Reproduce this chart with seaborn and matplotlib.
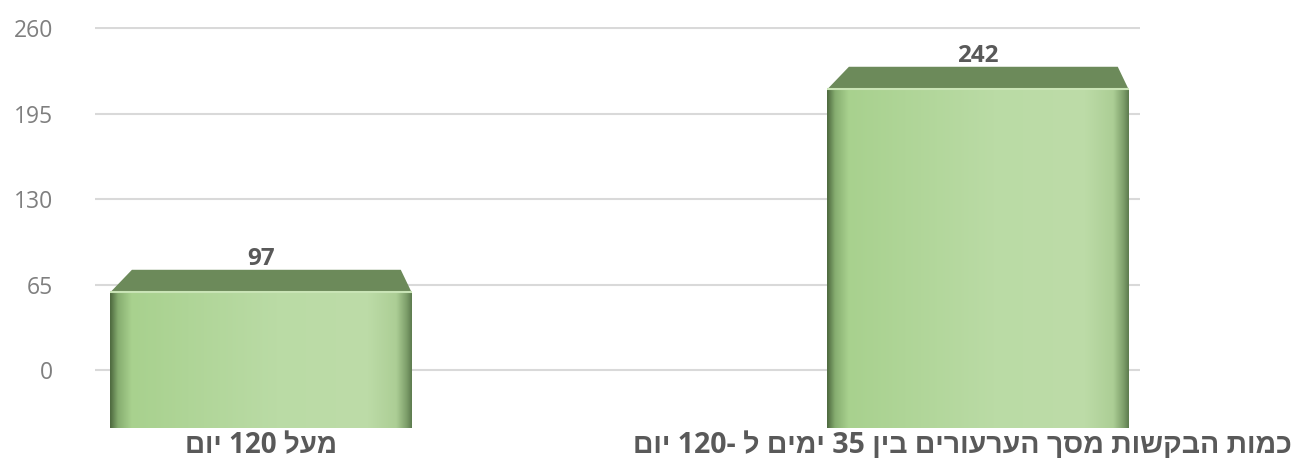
import re
import numpy as np
import pandas as pd
import matplotlib
matplotlib.use("Agg")
import matplotlib.pyplot as plt
import matplotlib.transforms as mtransforms
import seaborn as sns
from matplotlib.colors import LinearSegmentedColormap
from matplotlib.patches import Polygon

# ---- data ----
categories = ["מעל 120 יום", "כמות הבקשות מסך הערעורים בין 35 ימים ל -120 יום"]
values = [97, 242]
yticks = [0, 65, 130, 195, 260]


def visual(s):
    """Simple RTL reordering for display: keep digit runs, reverse the rest."""
    tokens = re.findall(r"[0-9]+|[^0-9]", s)
    return "".join(reversed(tokens))


sns.set_theme(style="white")
plt.rcParams["font.family"] = ["Open Sans", "Liberation Sans", "DejaVu Sans"]

W, H = 1310, 462
fig = plt.figure(figsize=(W / 100, H / 100), dpi=100)
fig.patch.set_facecolor("white")


def frac(x0, y_top, x1, y_bot):
    return [x0 / W, 1 - y_bot / H, (x1 - x0) / W, (y_bot - y_top) / H]


ax = fig.add_axes(frac(95, 27, 1140, 430))
ax2 = ax.twinx()

df = pd.DataFrame({"cat": [visual(c) for c in categories], "val": values})
sns.barplot(data=df, x="cat", y="val", ax=ax2, width=0.42, color="#b1d69a",
            saturation=1, edgecolor="none", errorbar=None)

front_cmap = LinearSegmentedColormap.from_list(
    "front",
    [(0.0, "#4f6b40"), (0.025, "#86ad70"), (0.07, "#a8d18e"), (0.55, "#badba5"),
     (0.85, "#bddca8"), (0.95, "#acce95"), (0.985, "#7c9d69"), (1.0, "#5f7d50")])

top_h = 16  # depth of the top face, in bar-axis units
for patch, v in zip(list(ax2.patches), values):
    x = patch.get_x()
    w = patch.get_width()
    h = patch.get_height()
    grad = np.linspace(0, 1, 256)[None, :]
    ax2.imshow(grad, extent=[x, x + w, 0, h], aspect="auto", cmap=front_cmap,
               zorder=patch.get_zorder() + 0.1, interpolation="bicubic")
    inset_l, inset_r = 0.03, 0.015
    top = Polygon([(x, h), (x + w, h), (x + w - inset_r, h + top_h),
                   (x + inset_l, h + top_h)], closed=True,
                  facecolor="#6c8a5a", edgecolor="none",
                  zorder=patch.get_zorder() + 0.2)
    ax2.add_patch(top)
    ax2.plot([x, x + w], [h, h], color="#c9e4b6", lw=1.5,
             zorder=patch.get_zorder() + 0.3, solid_capstyle="butt")
    ax2.text(x + w / 2, h + top_h - 1, f"{v}", ha="center", va="bottom",
             fontsize=17.5, fontweight="bold", color="#595959",
             zorder=patch.get_zorder() + 0.4)

# grid / value axis
ax.set_ylim(-45.6, 260.76)
ax.set_yticks(yticks)
ax.set_yticklabels([str(t) for t in yticks])
ax.tick_params(axis="y", length=0, pad=30, labelsize=16.5, labelcolor="#7f7f7f")
ax.yaxis.grid(True, color="#d9d9d9", lw=1.5)
ax.xaxis.grid(False)

# bar axis
ax2.set_ylim(-1.43, 286.4)
ax2.set_yticks([])
ax2.set_ylabel("")
ax2.set_xlabel("")

ax.set_xlim(-0.2315, 1.226)
ax.set_xticks([0, 1])
ax.set_xticklabels([visual(c) for c in categories], fontweight="bold",
                   color="#595959")
ax.tick_params(axis="x", length=0, pad=1)
xlabels = ax.get_xticklabels()
xlabels[0].set_fontsize(20)
xlabels[1].set_fontsize(20.5)
ax.set_xlabel("")
ax.set_ylabel("")
fig.canvas.draw()
# nudge the long label left so it stays inside the figure, as in the reference
shift = mtransforms.ScaledTranslation(-16 / 100, 0, fig.dpi_scale_trans)
for lbl in ax.get_xticklabels()[1:]:
    lbl.set_transform(lbl.get_transform() + shift)

for a in (ax, ax2):
    for s in a.spines.values():
        s.set_visible(False)

fig.savefig("out.png", dpi=100, facecolor="white")
